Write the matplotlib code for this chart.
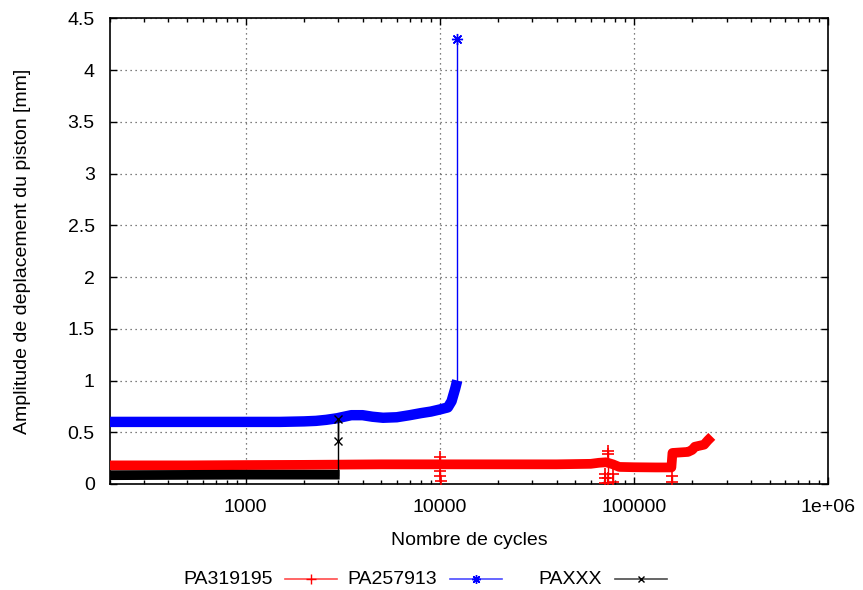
import matplotlib
matplotlib.use("Agg")
import matplotlib.pyplot as plt
from matplotlib.lines import Line2D
from matplotlib.ticker import FixedLocator, LogLocator, NullFormatter

plt.rcParams['font.family'] = ['Liberation Sans', 'DejaVu Sans']

# ---- data -------------------------------------------------------------
series_names = ["PA319195", "PA257913", "PAXXX"]

# PA319195: main trend of the measured amplitude
red_cycles = [200, 500, 1000, 2000, 5000, 10000, 20000, 40000, 60000, 66000,
              72000, 78000, 84000, 100000, 130000, 156000, 158000, 190000,
              200000, 206000, 230000, 240000, 252000]
red_amp = [0.18, 0.18, 0.183, 0.185, 0.19, 0.19, 0.19, 0.19, 0.195, 0.205,
           0.21, 0.19, 0.165, 0.162, 0.16, 0.16, 0.30, 0.31,
           0.33, 0.36, 0.38, 0.42, 0.46]
# PA319195: isolated readings away from the trend
red_out_cycles = [10000, 10000, 10050, 10050, 10100, 71000, 71000, 71000,
                  73700, 73700, 73700, 73700, 78000, 78000, 157000, 157000]
red_out_amp = [0.26, 0.21, 0.13, 0.08, 0.03, 0.10, 0.06, 0.01,
               0.32, 0.29, 0.06, 0.01, 0.10, 0.02, 0.08, 0.02]

# PA257913
blue_cycles = [200, 500, 1000, 1500, 2000, 2300, 2600, 2950, 3500, 4000,
               4500, 5100, 6000, 7000, 8000, 9000, 10000, 11000, 11500,
               12000, 12300]
blue_amp = [0.60, 0.60, 0.60, 0.60, 0.605, 0.61, 0.62, 0.635, 0.665, 0.665,
            0.65, 0.64, 0.645, 0.665, 0.685, 0.70, 0.72, 0.74, 0.80,
            0.92, 1.00]
blue_out_cycles = [12300, 12300]
blue_out_amp = [1.00, 4.30]

# PAXXX
black_cycles = [200, 500, 1000, 2000, 3050]
black_amp = [0.085, 0.088, 0.09, 0.09, 0.09]
black_out_cycles = [2980, 2980, 2980]
black_out_amp = [0.09, 0.63, 0.42]

x_ticks = [1000, 10000, 100000, 1e6]
x_tick_labels = ["1000", "10000", "100000", "1e+06"]
y_ticks = [0, 0.5, 1, 1.5, 2, 2.5, 3, 3.5, 4, 4.5]

# ---- figure -------------------------------------------------------------
W, H = 863, 590
FS = 14
fig = plt.figure(figsize=(W / 100, H / 100), dpi=100)
ax = fig.add_axes([110 / W, 1 - 484 / H, (828 - 110) / W, (484 - 18.3) / H])

ax.set_xscale('log')
ax.set_xlim(200, 1e6)
ax.set_ylim(0, 4.5)

colors = ['#ff0000', '#0000ff', '#000000']
markers = ['+', (8, 2, 0), 'x']
band_widths = [7.0, 7.5, 7.0]
marker_sizes = [9, 8, 6]

bands = [(red_cycles, red_amp, red_out_cycles, red_out_amp),
         (blue_cycles, blue_amp, blue_out_cycles, blue_out_amp),
         (black_cycles, black_amp, black_out_cycles, black_out_amp)]

for (bx, by, ox, oy), c, m, bw, ms in zip(bands, colors, markers,
                                          band_widths, marker_sizes):
    ax.plot(bx, by, color=c, lw=bw, solid_capstyle='butt',
            solid_joinstyle='round', zorder=3)
    if c == '#ff0000':
        # separate vertical excursions around the trend
        groups = {}
        for xi, yi in zip(ox, oy):
            groups.setdefault(xi, []).append(yi)
        for xi, ys in groups.items():
            ax.vlines(xi, min(ys), max(ys), color=c, lw=1, zorder=3)
        ax.plot(ox, oy, ls='none', marker=m, ms=ms, mew=1.2, color=c,
                zorder=3)
    else:
        ax.plot(ox, oy, color=c, lw=1, zorder=3)
        ax.plot(ox[1:], oy[1:], ls='none', marker=m, ms=ms, mew=1,
                color=c, zorder=3)

# axes styling
ax.xaxis.set_major_locator(FixedLocator(x_ticks))
ax.set_xticklabels(x_tick_labels)
ax.xaxis.set_minor_locator(LogLocator(base=10, subs=range(2, 10)))
ax.xaxis.set_minor_formatter(NullFormatter())
ax.set_yticks(y_ticks)
ax.set_yticklabels(['%g' % v for v in y_ticks])

ax.tick_params(which='both', direction='in', top=True, right=True,
               labelsize=FS, width=1)
ax.tick_params(which='major', length=5)
ax.tick_params(axis='x', which='major', pad=11)
ax.tick_params(axis='y', which='major', pad=11)
ax.tick_params(which='minor', length=3)
for s in ax.spines.values():
    s.set_linewidth(1.2)

ax.grid(True, which='major', color='#555555', linestyle=(0, (1, 3)),
        linewidth=0.9)
ax.set_axisbelow(True)

ax.set_xlabel("Nombre de cycles", fontsize=FS, labelpad=11)
ax.set_ylabel("Amplitude de deplacement du piston [mm]", fontsize=FS,
              labelpad=26)

# legend row below the axes: label, then line sample with marker
ly = 1 - 579 / H
text_right = [273, 437, 602]
sample_left = [285, 450, 615]
for name, c, m, tr, sl, ms in zip(series_names, colors, markers, text_right,
                                  sample_left, marker_sizes):
    fig.text(tr / W, ly, name, ha='right', va='center', fontsize=FS)
    fig.add_artist(Line2D([sl / W, (sl + 52) / W], [ly, ly], color=c,
                          lw=1.2, alpha=0.7, transform=fig.transFigure))
    fig.add_artist(Line2D([(sl + 26) / W], [ly], color=c, marker=m,
                          ms=ms * 0.8, mew=1, ls='none',
                          transform=fig.transFigure))

fig.savefig("out.png", dpi=100)
